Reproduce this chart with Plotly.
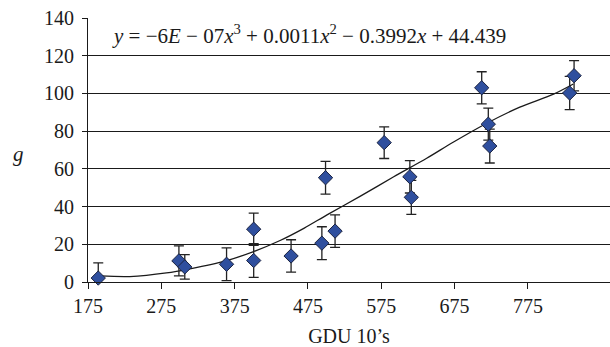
import plotly.graph_objects as go

# Observed data (GDU 10's vs g)
gdu = [189, 299, 307, 364, 401, 401, 452, 494, 499, 512, 579, 614, 616, 712, 721, 723, 832, 838]
g_vals = [2.1, 11.2, 8.0, 9.4, 28.0, 11.4, 13.8, 20.6, 55.3, 27.0, 73.9, 55.8, 44.9, 103.0, 83.7, 72.1, 100.2, 109.4]
g_err = [8, 8, 6.5, 8.7, 8.5, 9, 8.6, 8.7, 8.7, 8.6, 8.4, 8.6, 9, 8.5, 8.5, 9, 8.8, 8]

# Trend curve
trend_x = [191, 232, 282, 314, 363, 400, 437, 470, 501, 546, 592, 637, 673, 719, 764, 810, 837]
trend_y = [3.2, 2.9, 4.8, 7.0, 11.2, 16.0, 22.0, 28.6, 35.6, 45.4, 55.8, 65.6, 74.1, 84.2, 92.7, 99.6, 105.0]

x_ticks = [175, 275, 375, 475, 575, 675, 775]
y_ticks = [0, 20, 40, 60, 80, 100, 120, 140]

equation = ("<i>y</i> = −6<i>E</i> − 07<i>x</i><sup>3</sup> + 0.0011<i>x</i><sup>2</sup>"
            " − 0.3992<i>x</i> + 44.439")

FONT = "Liberation Serif"
TXT = "#1a1a1a"

fig = go.Figure()
fig.add_trace(go.Scatter(
    x=trend_x, y=trend_y, mode="lines",
    line=dict(color=TXT, width=1.3, shape="spline", smoothing=0.8),
    showlegend=False, hoverinfo="skip"))
fig.add_trace(go.Scatter(
    x=gdu, y=g_vals, mode="markers",
    marker=dict(symbol="diamond", size=11, color="#2f4f9e",
                line=dict(color="#1b2340", width=1)),
    error_y=dict(type="data", array=g_err, visible=True,
                 color="#222222", thickness=1.3, width=5),
    cliponaxis=False, showlegend=False))

fig.update_layout(
    width=610, height=347,
    margin=dict(l=88, r=0, t=18, b=65, autoexpand=False),
    paper_bgcolor="white", plot_bgcolor="white",
    font=dict(family=FONT, size=20, color=TXT),
    xaxis=dict(range=[175, 887], tickvals=x_ticks, ticktext=[str(v) for v in x_ticks],
               automargin=False,
               showgrid=False, zeroline=False, showline=True, linecolor=TXT,
               linewidth=1.2, ticks="outside", ticklen=6, tickcolor=TXT,
               tickfont=dict(family=FONT, size=20, color=TXT),
               title=dict(text="GDU 10’s", font=dict(family=FONT, size=20, color=TXT), standoff=15)),
    yaxis=dict(range=[0, 140], tickvals=y_ticks, ticktext=[str(v) for v in y_ticks],
               automargin=False,
               showgrid=True, gridcolor=TXT, gridwidth=1, zeroline=False,
               showline=True, linecolor=TXT, linewidth=1.2,
               ticks="outside", ticklen=5, tickcolor=TXT, ticklabelstandoff=4,
               tickfont=dict(family=FONT, size=20, color=TXT)),
    annotations=[
        dict(text=equation, xref="paper", yref="paper", x=0.423, y=0.937,
             xanchor="center", yanchor="middle", showarrow=False,
             font=dict(family=FONT, size=21, color=TXT)),
        dict(text="<i>g</i>", xref="paper", yref="paper", x=-0.134, y=0.485,
             xanchor="center", yanchor="middle", showarrow=False,
             font=dict(family=FONT, size=21, color=TXT)),
    ],
)

fig.write_html("out.html", config={"displayModeBar": False},
               post_script="document.body.style.margin='0';document.body.style.padding='0';")
